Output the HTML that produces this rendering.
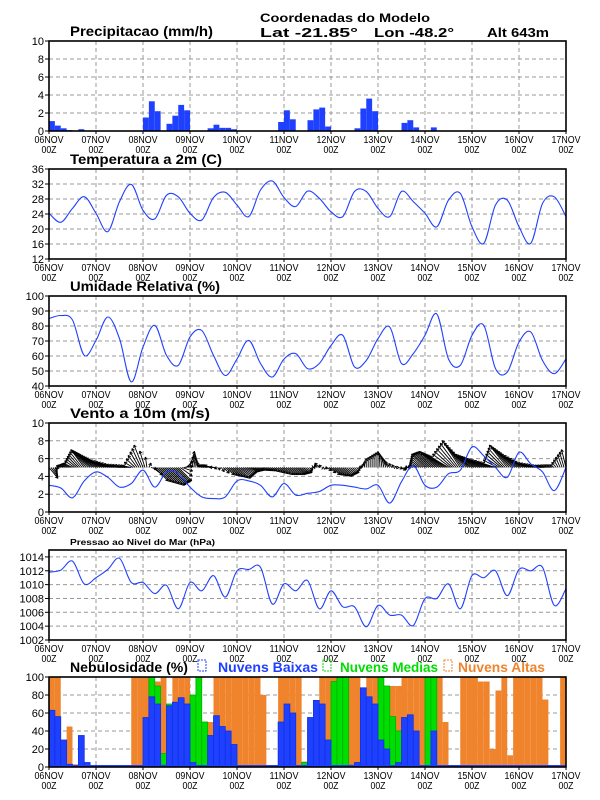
<!DOCTYPE html>
<html><head><meta charset="utf-8"><style>
html,body{margin:0;padding:0;background:#fff;}
svg{display:block;font-family:"Liberation Sans",sans-serif;}
</style></head><body>
<svg id="chart" width="600" height="800" viewBox="0 0 600 800" xmlns="http://www.w3.org/2000/svg">
<text x="345" y="22" font-size="12" font-weight="bold" text-anchor="middle" textLength="170" lengthAdjust="spacingAndGlyphs">Coordenadas do Modelo</text>
<text x="260" y="37" font-size="13" font-weight="bold" textLength="98" lengthAdjust="spacingAndGlyphs">Lat -21.85°</text>
<text x="374" y="37" font-size="13" font-weight="bold" textLength="80" lengthAdjust="spacingAndGlyphs">Lon -48.2°</text>
<text x="487" y="37" font-size="13" font-weight="bold" textLength="62" lengthAdjust="spacingAndGlyphs">Alt 643m</text>
</svg>
<script>
// ---------- data ----------
const days = ["06NOV","07NOV","08NOV","09NOV","10NOV","11NOV","12NOV","13NOV","14NOV","15NOV","16NOV","17NOV"];
const precip = [1.1,0.6,0.3,0.1,0,0.2,0,0, 0,0,0,0,0,0,0,0, 1.5,3.3,2.2,0,0.8,1.7,2.9,2.3, 0,0,0,0.3,0.7,0.35,0.35,0.2, 0,0,0,0,0,0,0,1.0, 2.3,1.3,0,0,1.2,2.4,2.6,0.5, 0,0,0,0,0.3,2.5,3.6,2.2, 0,0,0,0,0.9,1.2,0.4,0, 0,0.4,0,0,0,0,0,0, 0,0,0,0,0,0,0,0, 0,0,0,0,0,0,0,0];
const temperature = [24.2,21.8,25.5,28.6,24.2,19.3,27.3,31.9,25,22.7,29,28.6,24.2,22.4,28.4,29.8,26.4,23.3,30.4,32.8,28.4,26,30.1,28.2,24.6,23.3,30,30,25.5,23.3,30,27.3,24.2,20.6,27.7,29.5,20.6,16.2,26.4,27.7,20.6,16.2,26.8,28.6,23.3];
const humidity = [85,87,84,60.4,70.4,86,71.6,42.7,66,80.4,60.4,53.8,72.7,77,60.4,47,58,70.4,55,46,58,61.6,51.6,55,67,73.8,52.7,57,71.6,79.3,55,61.6,73.8,88,58,53.8,73.8,80.4,51.6,49.3,69.3,76,57,48.2,58];
const windSpeed = [3,2.7,1.6,3.5,4.5,3.9,2.8,3.2,4.7,2.8,4.5,4.3,2.8,1.7,1.5,1.7,3.5,3.5,3,1.7,3.2,1.9,2.1,2.3,3,3,2.8,2.6,3,1,3.4,5.2,3,2.8,4.3,4.7,7.3,6.3,5,3.9,6.7,5.4,4.5,2.4,5];
const windU = [1,-0.5,-1,-1.5,-2,-2,-1.5,-1,-1,1.5,2,1.5,0.5,-0.5,-1,1,1.5,1,0.5,0.5,1,1,0.5,-0.5,1,1,0.5,0,0,-0.5,0.5,-0.5,-1.5,-2,-2,-2,-2,-2,-1.5,-2,-2,-1.5,-1,-0.5,-0.5];
const windV = [-1.2,0.2,0.5,2,1.5,0.8,0.3,0.2,2.5,-1.5,-2,-1.5,1.8,0.3,0.2,-0.8,-1.2,-0.5,-0.3,-0.4,-0.8,-0.8,-0.6,0.5,-0.8,-1,-0.6,1,1.8,0.6,-0.3,0.2,1.5,1.8,1.2,3,1.5,1,0.5,2.5,1.5,0.5,0.2,0.3,2];
const pressure = [1011.8,1012.1,1013.4,1010.1,1011,1012.2,1013.8,1010.3,1010.3,1008.7,1009.9,1006.5,1010.3,1009.1,1011.3,1008.2,1012,1012.2,1012.5,1007.2,1010.1,1009.1,1010.6,1006.5,1009.1,1006.8,1006.8,1003.9,1007,1005.6,1005.6,1004.1,1008,1008,1010.1,1006.5,1011.3,1011,1012,1008.4,1012.2,1012,1012.5,1007,1009.4];
const cloudHigh = [100,100,25,45,3,0,0,0, 0,0,0,0,0,0,100,100, 100,95,95,100,0,100,100,100, 0,30,0,50,100,100,100,100, 100,100,100,100,80,0,0,100, 100,100,100,6,0,60,100,100, 100,100,100,100,100,80,100,100, 100,90,90,90,100,100,100,100, 100,100,100,50,0,0,100,100, 100,95,95,20,85,100,13,100, 100,100,100,100,75,0,0,100];
const cloudMid = [0,0,0,0,0,0,0,0, 0,0,0,0,0,0,0,0, 5,100,90,15,70,70,75,70, 80,100,50,0,0,0,0,15, 0,0,0,0,0,0,0,0, 0,0,0,5,0,0,0,0, 95,100,100,0,0,0,0,0, 100,90,56,40,0,0,0,0, 100,100,0,0,0,0,0,0, 0,0,0,0,0,0,0,0, 0,0,0,0,0,0,0,0];
const cloudLow = [63,56,30,3,1,35,5,0, 0,0,0,0,0,0,0,0, 55,78,70,2,68,72,77,70, 5,0,0,35,57,45,40,25, 0,0,0,0,0,0,0,50, 70,60,0,0,55,74,70,30, 0,0,0,2,5,88,78,70, 30,20,0,5,55,58,40,0, 0,40,0,0,0,0,0,0, 0,0,0,0,0,0,0,0, 0,0,0,0,0,0,0,0];
const precipTicks = [0,2,4,6,8,10];
const tempTicks = [12,16,20,24,28,32,36];
const humTicks = [40,50,60,70,80,90,100];
const windTicks = [0,2,4,6,8,10];
const presTicks = [1002,1004,1006,1008,1010,1012,1014];
const cloudTicks = [0,20,40,60,80,100];

// ---------- helpers ----------
const NS = "http://www.w3.org/2000/svg";
const svg = document.getElementById("chart");
const X0 = 49, X1 = 566, HOURS = 264;
function xs(h){ return X0 + h*(X1-X0)/HOURS; }
function mk(tag, attrs, parent){
  const e = document.createElementNS(NS, tag);
  for (const k in attrs) e.setAttribute(k, attrs[k]);
  (parent||svg).appendChild(e);
  return e;
}
const BLUE = "#2040ff", GREEN = "#00dd00", ORANGE = "#f0842c";

function panel(name, top, bot, vmin, vmax, ticks, title, titleSize, titleLen){
  const g = mk("g", {});
  
  
  const ys = v => bot - (v - vmin)*(bot-top)/(vmax-vmin);
  for (let d=1; d<days.length-1; d++){
    const l = mk("line", {x1:xs(d*24), x2:xs(d*24), y1:top, y2:bot, stroke:"#999", "stroke-dasharray":"4,3", "stroke-width":1}, g);
    
    
  }
  ticks.forEach(t=>{
    const y = ys(t);
    if (t!==vmin && t!==vmax){
      const l = mk("line", {x1:X0, x2:X1, y1:y, y2:y, stroke:"#999", "stroke-dasharray":"4,3", "stroke-width":1}, g);
      
      
    }
    const tk = mk("line", {x1:X0-4, x2:X0, y1:y, y2:y, stroke:"#000"}, g);
    
    
    const tx = mk("text", {x:X0-5, y:y+4, "font-size":11, "text-anchor":"end"}, g);
    
    
    tx.textContent = t;
  });
  days.forEach((d,i)=>{
    const x = xs(i*24);
    const t1 = mk("text", {x:x, y:bot+12, "font-size":10, "text-anchor":"middle", textLength:29, lengthAdjust:"spacingAndGlyphs"}, g);
    
    
    t1.textContent = d;
    const t2 = mk("text", {x:x, y:bot+22, "font-size":10, "text-anchor":"middle", textLength:15, lengthAdjust:"spacingAndGlyphs"}, g);
    
    
    t2.textContent = "00Z";
    const tk = mk("line", {x1:x, x2:x, y1:bot, y2:bot+3, stroke:"#000"}, g);
    
    
  });
  const tt = mk("text", {x:70, y:top-5, "font-size":titleSize, "font-weight":"bold", textLength:titleLen, lengthAdjust:"spacingAndGlyphs"}, g);
  
  
  tt.textContent = title;
  const content = mk("g", {}, g);
  
  
  return {g, content, ys, top, bot};
}
function frame(p, name){
  const r = mk("rect", {x:X0, y:p.top, width:X1-X0, height:p.bot-p.top, fill:"none", stroke:"#000", "stroke-width":1.6}, p.g);
  
  
}
function line6h(p, arr, name){
  const P = arr.map((v,i)=>[xs(i*6), p.ys(v)]);
  let d = "M" + P[0][0].toFixed(1) + "," + P[0][1].toFixed(1);
  for (let i=0; i<P.length-1; i++){
    const p0 = P[Math.max(i-1,0)], p1 = P[i], p2 = P[i+1], p3 = P[Math.min(i+2,P.length-1)];
    const c1x = p1[0] + (p2[0]-p0[0])/6, c1y = p1[1] + (p2[1]-p0[1])/6;
    const c2x = p2[0] - (p3[0]-p1[0])/6, c2y = p2[1] - (p3[1]-p1[1])/6;
    d += ` C${c1x.toFixed(1)},${c1y.toFixed(1)} ${c2x.toFixed(1)},${c2y.toFixed(1)} ${p2[0].toFixed(1)},${p2[1].toFixed(1)}`;
  }
  const pl = mk("path", {d:d, fill:"none", stroke:BLUE, "stroke-width":1.1}, p.content);
  
  
}
function bars3h(p, arr, color, name, stroke){
  arr.forEach((v,k)=>{
    if (v<=0) return;
    const x = xs(k*3), w = xs(k*3+3)-x;
    const y = p.ys(v);
    const r = mk("rect", {x:x, y:y, width:w, height:p.bot-y, fill:color}, p.content);
    if (stroke){ r.setAttribute("stroke", stroke); r.setAttribute("stroke-width", 0.8); }
    
    
  });
}

const p1 = panel("precip", 41, 131, 0, 10, precipTicks, "Precipitacao (mm/h)", 14, 143);
bars3h(p1, precip, BLUE, "precip-bar");
frame(p1, "precip");

const p2 = panel("temperature", 169, 259, 12, 36, tempTicks, "Temperatura a 2m (C)", 14, 152);
line6h(p2, temperature, "temperature-line");
frame(p2, "temperature");

const p3 = panel("humidity", 296, 386, 40, 100, humTicks, "Umidade Relativa (%)", 14, 150);
line6h(p3, humidity, "humidity-line");
frame(p3, "humidity");

const p4 = panel("wind", 423, 512, 0, 10, windTicks, "Vento a 10m (m/s)", 14, 140);
{
  const base = p4.ys(5), unit = 9;
  for (let h=0; h<=HOURS; h++){
    const i = Math.floor(h/6), f = (h%6)/6;
    const j = Math.min(i+1, windU.length-1);
    const u = windU[i]*(1-f) + windU[j]*f;
    const v = windV[i]*(1-f) + windV[j]*f;
    const x = xs(h), x2 = x + u*unit, y2 = base - v*unit;
    const a = mk("line", {x1:x, y1:base, x2:x2, y2:y2, stroke:"#000", "stroke-width":0.9}, p4.content);
    
    
    const ang = Math.atan2(y2-base, x2-x);
    const hd = mk("path", {d:`M${x2},${y2} L${x2-3*Math.cos(ang-0.5)},${y2-3*Math.sin(ang-0.5)} M${x2},${y2} L${x2-3*Math.cos(ang+0.5)},${y2-3*Math.sin(ang+0.5)}`, stroke:"#000", "stroke-width":0.9, fill:"none"}, p4.content);
    
    
  }
  line6h(p4, windSpeed, "wind-speed-line");
}
frame(p4, "wind");

const p5 = panel("pressure", 550, 640, 1002, 1015, presTicks, "Pressao ao Nivel do Mar (hPa)", 8, 145);
line6h(p5, pressure, "pressure-line");
frame(p5, "pressure");

const p6 = panel("cloud", 677, 767, 0, 100, cloudTicks, "Nebulosidade (%)", 14, 118);
bars3h(p6, cloudHigh, ORANGE, "cloud-high-bar");
bars3h(p6, cloudMid, GREEN, "cloud-mid-bar", "#00b000");
bars3h(p6, cloudLow, BLUE, "cloud-low-bar", "#1030e0");
{
  const bl = mk("line", {x1:X0, x2:X1, y1:766, y2:766, stroke:BLUE, "stroke-width":2}, p6.content);
  
  
  const leg = [["Nuvens Baixas", BLUE, 198, 218, 100], ["Nuvens Medias", GREEN, 323, 340, 98], ["Nuvens Altas", ORANGE, 444, 458, 87]];
  leg.forEach(l=>{
    const g = mk("g", {});
    
    
    const s = mk("rect", {x:l[2], y:660, width:8, height:11, fill:"none", stroke:l[1], "stroke-dasharray":"2,1"}, g);
    
    
    const t = mk("text", {x:l[3], y:672, "font-size":14, "font-weight":"bold", fill:l[1], textLength:l[4], lengthAdjust:"spacingAndGlyphs"}, g);
    
    
    t.textContent = l[0];
  });
}
frame(p6, "cloud");
</script>
</body></html>
